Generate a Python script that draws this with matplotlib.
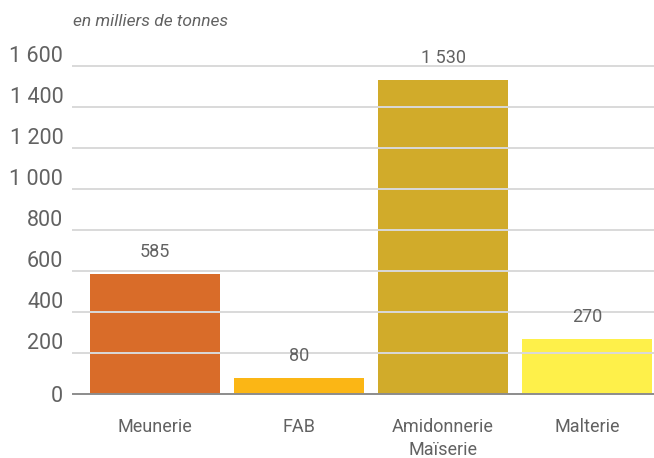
import matplotlib.pyplot as plt
import matplotlib.transforms as mtransforms

categories = ["Meunerie", "FAB", "Amidonnerie\nMaïserie", "Malterie"]
values = [585, 80, 1530, 270]
value_labels = ["585", "80", "1 530", "270"]
colors = ["#D96C29", "#FBB615", "#D1AB2A", "#FEF04A"]
yticks = [0, 200, 400, 600, 800, 1000, 1200, 1400, 1600]
ytick_labels = ["0", "200", "400", "600", "800", "1 000", "1 200", "1 400", "1 600"]

plt.rcParams["font.family"] = ["Roboto", "DejaVu Sans"]
TEXT = "#626262"

fig = plt.figure(figsize=(6.54, 4.58), dpi=100)
ax = fig.add_axes([73 / 654, 64 / 458, 1 - 73 / 654, (394 - 65.5) / 458])

x = list(range(len(categories)))
ax.bar(x, values, width=0.903, color=colors, zorder=1)
ax.set_xlim(-0.569, 3.465)
ax.set_ylim(0, 1600)

# light gridlines drawn over the bars, as in the original
for t in yticks[1:]:
    ax.axhline(t, color="#D9D9D9", lw=1.4, zorder=2, clip_on=False)
ax.axhline(0, color="#8C8C8C", lw=1.4, zorder=3, clip_on=False)

for spine in ax.spines.values():
    spine.set_visible(False)

ax.set_yticks(yticks)
ax.set_yticklabels(ytick_labels, fontsize=15.5, color=TEXT)
ax.tick_params(axis="y", length=0, pad=7)
for lab, t in zip(ax.get_yticklabels(), yticks):
    if t > 0:
        lab.set_transform(lab.get_transform() + mtransforms.ScaledTranslation(0, 12 / 100, fig.dpi_scale_trans))

ax.set_xticks(x)
ax.set_xticklabels(categories, fontsize=13, color=TEXT, linespacing=1.4)
ax.tick_params(axis="x", length=0, pad=17)

for xi, v, lab in zip(x, values, value_labels):
    ax.annotate(lab, (xi, v), xytext=(0, 9), textcoords="offset points",
                ha="center", va="bottom", fontsize=13, color=TEXT)

fig.text(73 / 654, 1 - 22 / 458, "en milliers de tonnes", ha="left", va="center",
         fontsize=12.5, style="italic", color=TEXT)

fig.savefig("out.png", dpi=100)
